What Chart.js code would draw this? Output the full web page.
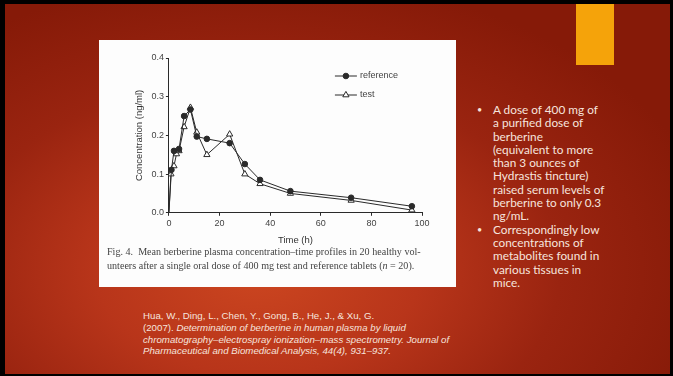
<!DOCTYPE html>
<html>
<head>
<meta charset="utf-8">
<script src="https://cdn.jsdelivr.net/npm/chart.js@4.4.0/dist/chart.umd.min.js"></script>
<style>
  html, body { margin: 0; padding: 0; }
  body { width: 673px; height: 376px; background: #000; position: relative; overflow: hidden; }
  .slide {
    position: absolute; left: 5px; top: 4px; width: 665px; height: 370px;
    background: radial-gradient(ellipse 70% 80% at 38% 72%, #cc4620 0%, #b8351a 35%, #9a2410 65%, #861a08 100%);
    overflow: hidden;
  }
  .accent { position: absolute; left: 571px; top: 0; width: 38px; height: 61px; background: #f5a30a; }
  .figure { position: absolute; left: 94px; top: 36px; width: 357px; height: 247px; background: #fdfdfd; }
  .figure canvas { position: absolute; left: 0; top: 0; }
  .caption {
    position: absolute; left: 8px; top: 205px; width: 345px;
    font-family: "Liberation Serif", serif; font-size: 10.1px; line-height: 14.3px; color: #444;
    white-space: nowrap;
  }
  .bullets {
    position: absolute; left: 472px; top: 99px; width: 190px;
    font-family: "Lato", sans-serif; font-size: 11.8px; line-height: 13.3px; color: #f6e4de;
  }
  .bullets div { position: relative; padding-left: 16px; }
  .bullets div::before { content: "\2022"; position: absolute; left: 0; top: 0; font-size: 9px; }
  .cite {
    position: absolute; left: 138px; top: 306px; width: 330px;
    font-family: "Liberation Sans", sans-serif; font-size: 9.7px; line-height: 11.8px; color: #f6e4de;
    white-space: nowrap;
  }
</style>
</head>
<body>
<div class="slide">
  <div class="accent"></div>
  <div class="figure">
    <canvas id="pkChart" width="357" height="210"></canvas>
    <div class="caption">Fig. 4. &nbsp;Mean berberine plasma concentration–time profiles in 20 healthy vol-<br>unteers after a single oral dose of 400 mg test and reference tablets (<i>n</i> = 20).</div>
  </div>
  <div class="bullets">
    <div>A dose of 400 mg of<br>a purified dose of<br>berberine<br>(equivalent to more<br>than 3 ounces of<br>Hydrastis tincture)<br>raised serum levels of<br>berberine to only 0.3<br>ng/mL.</div>
    <div>Correspondingly low<br>concentrations of<br>metabolites found in<br>various tissues in<br>mice.</div>
  </div>
  <div class="cite">Hua, W., Ding, L., Chen, Y., Gong, B., He, J., &amp; Xu, G.<br>(2007). <i>Determination of berberine in human plasma by liquid<br>chromatography–electrospray ionization–mass spectrometry. Journal of<br>Pharmaceutical and Biomedical Analysis, 44(4), 931–937.</i></div>
</div>

<script>
// 데이터
const refTime  = [0, 1, 2, 4, 6, 8.5, 11, 15, 24, 30, 36, 48, 72, 96];
const refConc  = [0, 0.111, 0.160, 0.165, 0.250, 0.267, 0.197, 0.191, 0.180, 0.126, 0.085, 0.056, 0.039, 0.017];
const testTime = [0, 0.8, 2, 3, 4, 6, 8.5, 11, 15, 24, 30, 36, 48, 72, 96];
const testConc = [0, 0.100, 0.121, 0.152, 0.160, 0.222, 0.272, 0.208, 0.150, 0.203, 0.100, 0.075, 0.050, 0.032, 0.007];
const xTicks = [0, 20, 40, 60, 80, 100];
const yTicks = [0, 0.1, 0.2, 0.3, 0.4];
const seriesNames = ['reference', 'test'];

const toPoints = (xs, ys) => xs.map((x, i) => ({ x, y: ys[i] }));
const ink = '#2a2a2a';

// 원점에는 마커 없음
const markerSize = r => ctx => (ctx.raw && ctx.raw.x === 0 ? 0 : r);

// 그래프 안쪽 범례
const innerLegend = {
  id: 'innerLegend',
  afterDraw(chart) {
    const { ctx, chartArea } = chart;
    const x0 = chartArea.left + 166, y0 = chartArea.top + 18;
    chart.data.datasets.forEach((ds, i) => {
      const y = y0 + i * 19;
      ctx.save();
      ctx.strokeStyle = ink;
      ctx.lineWidth = 1;
      ctx.beginPath();
      ctx.moveTo(x0, y);
      ctx.lineTo(x0 + 22, y);
      ctx.stroke();
      ctx.fillStyle = ds.pointBackgroundColor;
      ctx.strokeStyle = ink;
      Chart.helpers.drawPoint(ctx, {
        pointStyle: ds.pointStyle, radius: ds.legendRadius, borderWidth: 1
      }, x0 + 11, y);
      ctx.fillStyle = '#444';
      ctx.font = '9px "Liberation Sans", sans-serif';
      ctx.textBaseline = 'middle';
      ctx.fillText(ds.label, x0 + 25, y);
      ctx.restore();
    });
  }
};

new Chart(document.getElementById('pkChart'), {
  type: 'line',
  data: {
    datasets: [{
      label: seriesNames[0],
      data: toPoints(refTime, refConc),
      borderColor: ink,
      borderWidth: 1,
      pointStyle: 'circle',
      pointRadius: markerSize(2.8),
      legendRadius: 2.8,
      pointBackgroundColor: ink,
      pointBorderColor: ink,
      tension: 0
    }, {
      label: seriesNames[1],
      data: toPoints(testTime, testConc),
      borderColor: ink,
      borderWidth: 1,
      pointStyle: 'triangle',
      pointRadius: markerSize(3.6),
      legendRadius: 3.6,
      pointBackgroundColor: '#fff',
      pointBorderColor: ink,
      tension: 0
    }]
  },
  options: {
    responsive: false,
    animation: false,
    layout: { padding: { left: 31, right: 34, top: 18, bottom: 0 } },
    plugins: { legend: { display: false }, tooltip: { enabled: false } },
    scales: {
      x: {
        type: 'linear', min: 0, max: 100,
        afterBuildTicks: axis => { axis.ticks = xTicks.map(v => ({ value: v })); },
        ticks: { color: '#444', font: { size: 9, family: '"Liberation Sans", sans-serif' }, padding: 2 },
        grid: { drawOnChartArea: false, tickLength: 3, color: ink },
        border: { color: ink, width: 1 },
        title: { display: true, text: 'Time (h)', color: '#333', font: { size: 9.5, family: '"Liberation Sans", sans-serif' }, padding: { top: 4 } }
      },
      y: {
        min: 0, max: 0.4,
        afterBuildTicks: axis => { axis.ticks = yTicks.map(v => ({ value: v })); },
        ticks: { color: '#444', font: { size: 9, family: '"Liberation Sans", sans-serif' }, padding: 2, callback: v => v.toFixed(1) },
        grid: { drawOnChartArea: false, tickLength: 3, color: ink },
        border: { color: ink, width: 1 },
        title: { display: true, text: 'Concentration (ng/ml)', color: '#333', font: { size: 9.5, family: '"Liberation Sans", sans-serif' }, padding: { bottom: 4 } }
      }
    }
  },
  plugins: [innerLegend]
});
</script>
</body>
</html>
